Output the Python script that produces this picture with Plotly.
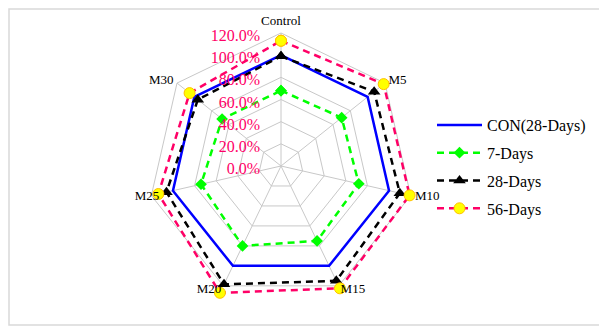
import plotly.graph_objects as go

# Categories (clockwise from top)
categories = ["Control", "M5", "M10", "M15", "M20", "M25", "M30"]

# Relative values (%)
con_28 = [100, 100, 100, 100, 100, 100, 100]
days_7 = [68, 70, 72, 75, 80, 74, 68]
days_28 = [99, 107.5, 110, 115, 118.5, 106, 96]
days_56 = [113, 118.5, 119, 122.5, 127, 113.5, 105.5]

radial_ticks = [0, 20, 40, 60, 80, 100, 120]
radial_labels = [f"{v:.1f}%" for v in radial_ticks]

# page body keeps its default 8px margin, so the figure is a bit smaller
W, H = 599, 321
cx, cy = 273, 158
PX_PER_UNIT = 133 / 120      # 120% ring sits 133px from the centre
R_MAX = 132                  # some 56-Days points go past the 120% ring
LABEL_R = 124                # anchor for the category names
R = R_MAX * PX_PER_UNIT
GRID = "#C8C8C8"

# which side of the anchor each category name goes
label_pos = ["top center", "middle right", "middle right", "middle right",
             "middle left", "middle center", "middle left"]


def closed(vals):
    return vals + vals[:1]


theta = closed(categories)

# spokes only out to the last ring, like the original
spoke_r, spoke_t = [], []
for c in categories:
    spoke_r += [0, radial_ticks[-1], None]
    spoke_t += [c, c, c]

fig = go.Figure()

fig.add_trace(go.Scatterpolar(
    r=spoke_r, theta=spoke_t, mode="lines",
    line=dict(color=GRID, width=1),
    showlegend=False, hoverinfo="skip"
))
fig.add_trace(go.Scatterpolar(
    r=closed(con_28), theta=theta, name="CON(28-Days)",
    mode="lines", line=dict(color="#0000FF", width=2.5),
    legendgroup="a", cliponaxis=False
))
fig.add_trace(go.Scatterpolar(
    r=closed(days_7), theta=theta, name="7-Days",
    mode="lines+markers", line=dict(color="#00FF00", width=2.5, dash="7px,5px"),
    marker=dict(symbol="diamond", size=9, color="#00FF00"),
    legendgroup="b", cliponaxis=False
))
fig.add_trace(go.Scatterpolar(
    r=closed(days_28), theta=theta, name="28-Days",
    mode="lines+markers", line=dict(color="#000000", width=2.5, dash="7px,5px"),
    marker=dict(symbol="triangle-up", size=11, color="#000000"),
    legendgroup="c", cliponaxis=False
))
fig.add_trace(go.Scatterpolar(
    r=closed(days_56), theta=theta, name="56-Days",
    mode="lines+markers", line=dict(color="#FF0066", width=2.5, dash="7px,5px"),
    marker=dict(symbol="circle", size=11, color="#FFFF00",
                line=dict(color="#FFC000", width=1)),
    legendgroup="d", cliponaxis=False
))
# category names
fig.add_trace(go.Scatterpolar(
    r=[LABEL_R] * len(categories), theta=categories, mode="text",
    text=categories, textposition=label_pos,
    textfont=dict(size=13, color="black", family="Liberation Serif"),
    showlegend=False, hoverinfo="skip", cliponaxis=False
))

fig.update_layout(
    width=W, height=H,
    margin=dict(l=0, r=0, t=0, b=0),
    paper_bgcolor="white",
    font=dict(family="Liberation Serif", color="black"),
    polar=dict(
        domain=dict(x=[(cx - R) / W, (cx + R) / W],
                    y=[1 - (cy + R) / H, 1 - (cy - R) / H]),
        gridshape="linear",
        bgcolor="white",
        radialaxis=dict(
            range=[0, R_MAX], angle=90, side="counterclockwise",
            tickvals=radial_ticks, ticktext=radial_labels,
            tickfont=dict(size=16, color="#FF0066", family="Liberation Serif"),
            showline=False, ticks="outside", ticklen=6,
            tickcolor="rgba(0,0,0,0)", gridcolor=GRID, gridwidth=1,
        ),
        angularaxis=dict(
            rotation=90, direction="clockwise",
            showticklabels=False, showline=False, showgrid=False, ticks="",
        ),
    ),
    legend=dict(
        x=424 / W, y=1 - 100 / H, xanchor="left", yanchor="top",
        font=dict(size=16, family="Liberation Serif", color="black"),
        tracegroupgap=4, itemwidth=45, bgcolor="rgba(0,0,0,0)",
    ),
    shapes=[dict(
        type="rect", xref="paper", yref="paper",
        x0=1 / W, x1=596 / W, y0=1 - 317 / H, y1=1 - 1 / H,
        line=dict(color="#D9D9D9", width=1.5),
    )],
)

fig.write_html("out.html")
